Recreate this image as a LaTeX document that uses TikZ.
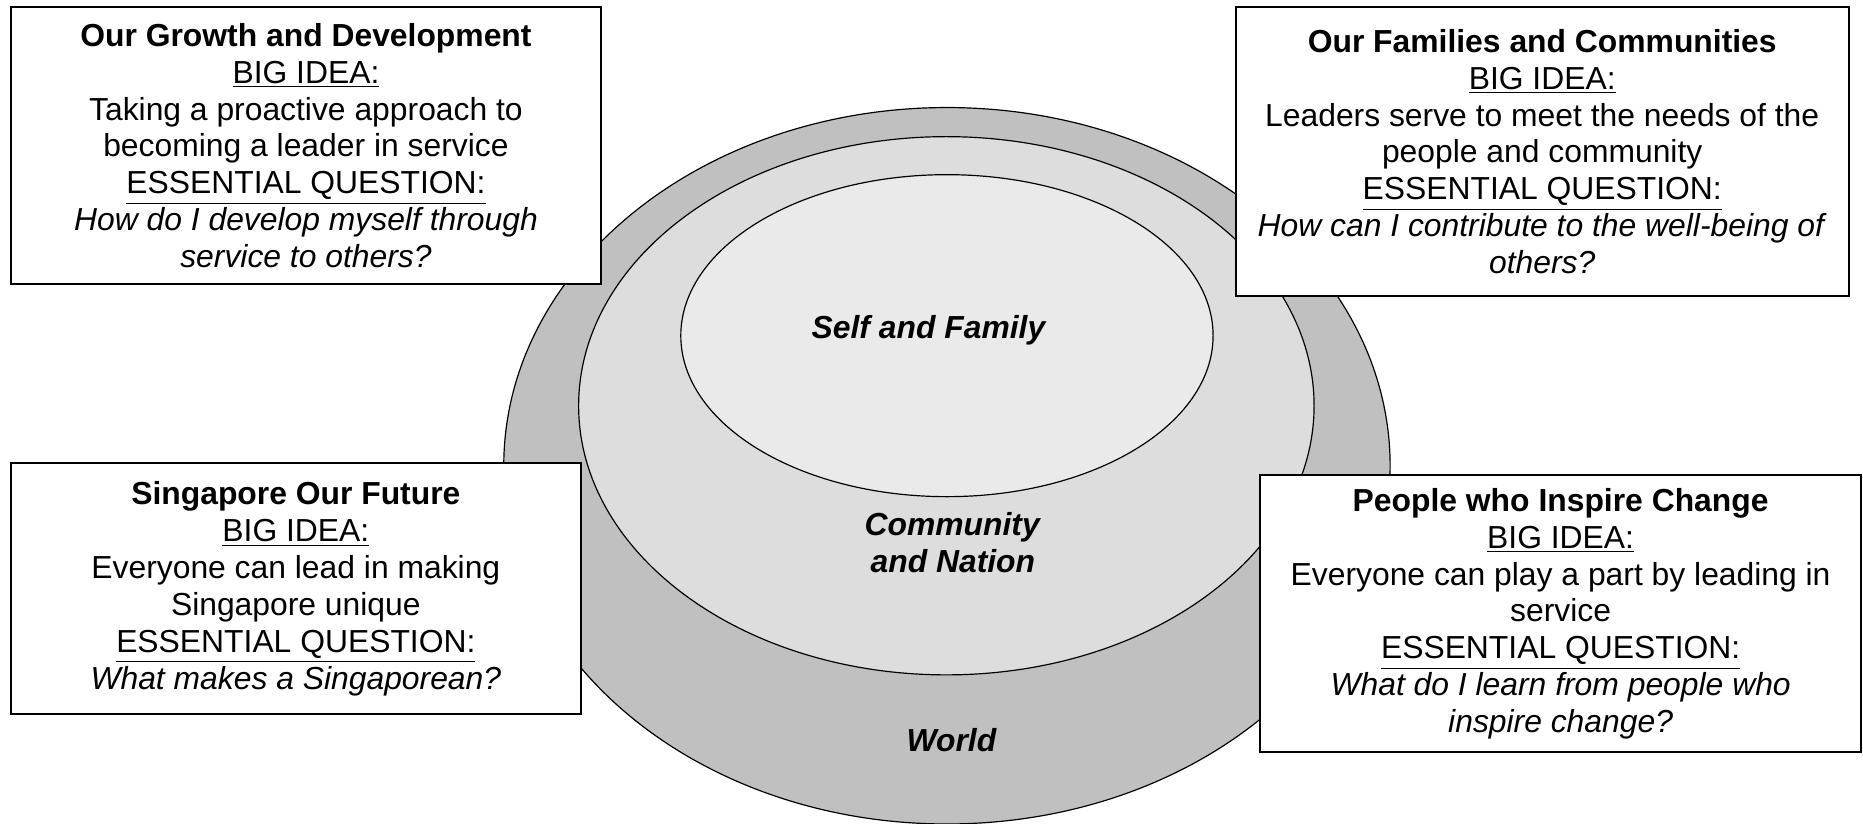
\documentclass[tikz,border=0pt]{standalone}
\usepackage{fontspec}
\setmainfont{Liberation Sans}
\usepackage{tikz}
\usetikzlibrary{shapes.geometric}
\definecolor{worldgray}{RGB}{192, 192, 192}
\definecolor{nationgray}{RGB}{221, 221, 221}
\definecolor{selfgray}{RGB}{234, 234, 234}

\begin{document}
\begin{tikzpicture}[x = 0.5pt, y = -0.5pt, font = \fontsize{13.4}{15.5}\selectfont,
			ring/.style = {ellipse, draw, line width = 0.5pt, inner sep = 0pt},
			topic/.style = {rectangle, draw, fill = white, line width = 0.85pt, align = center, inner sep = 0pt}]
			\useasboundingbox (0,0) rectangle (1568,693);
			% rings
			\node (w) at (797,392) [ring, fill = worldgray, minimum width = 373pt, minimum height = 301.5pt] {};
			\node (c) at (796.5,341.5) [ring, fill = nationgray, minimum width = 309.5pt, minimum height = 226.5pt] {};
			\node (s) at (797,282.5) [ring, fill = selfgray, minimum width = 224pt, minimum height = 135.5pt] {};
			\node (sl) at (782,278) {\textbf{\textit{Self and Family}}};
			\node (cl) at (802,457) [align = center] {\textbf{\textit{Community}}\\\textbf{\textit{and Nation}}};
			\node (wl) at (801,623) {\textbf{\textit{World}}};
			% topics
			\node (g) at (257.5,122.5) [topic, minimum width = 248.5pt, minimum height = 116.5pt] {\textbf{Our Growth and Development}\\\underline{BIG IDEA:}\\Taking a proactive approach to\\becoming a leader in service\\\underline{ESSENTIAL QUESTION:}\\\textit{How do I develop myself through}\\\textit{service to others?}};
			\node (f) at (1298,127.5) [topic, minimum width = 258pt, minimum height = 121.5pt] {\textbf{Our Families and Communities}\\\underline{BIG IDEA:}\\Leaders serve to meet the needs of the\\people and community\\\underline{ESSENTIAL QUESTION:}\\\textit{How can I contribute to the well-being of}\\\textit{others?}};
			\node (p) at (249,495.5) [topic, minimum width = 240pt, minimum height = 105.5pt] {\textbf{Singapore Our Future}\\\underline{BIG IDEA:}\\Everyone can lead in making\\Singapore unique\\\underline{ESSENTIAL QUESTION:}\\\textit{What makes a Singaporean?}};
			\node (i) at (1313.5,516.5) [topic, minimum width = 253pt, minimum height = 116.5pt] {\textbf{People who Inspire Change}\\\underline{BIG IDEA:}\\Everyone can play a part by leading in\\service\\\underline{ESSENTIAL QUESTION:}\\\textit{What do I learn from people who}\\\textit{inspire change?}};
			\end{tikzpicture}
\end{document}
